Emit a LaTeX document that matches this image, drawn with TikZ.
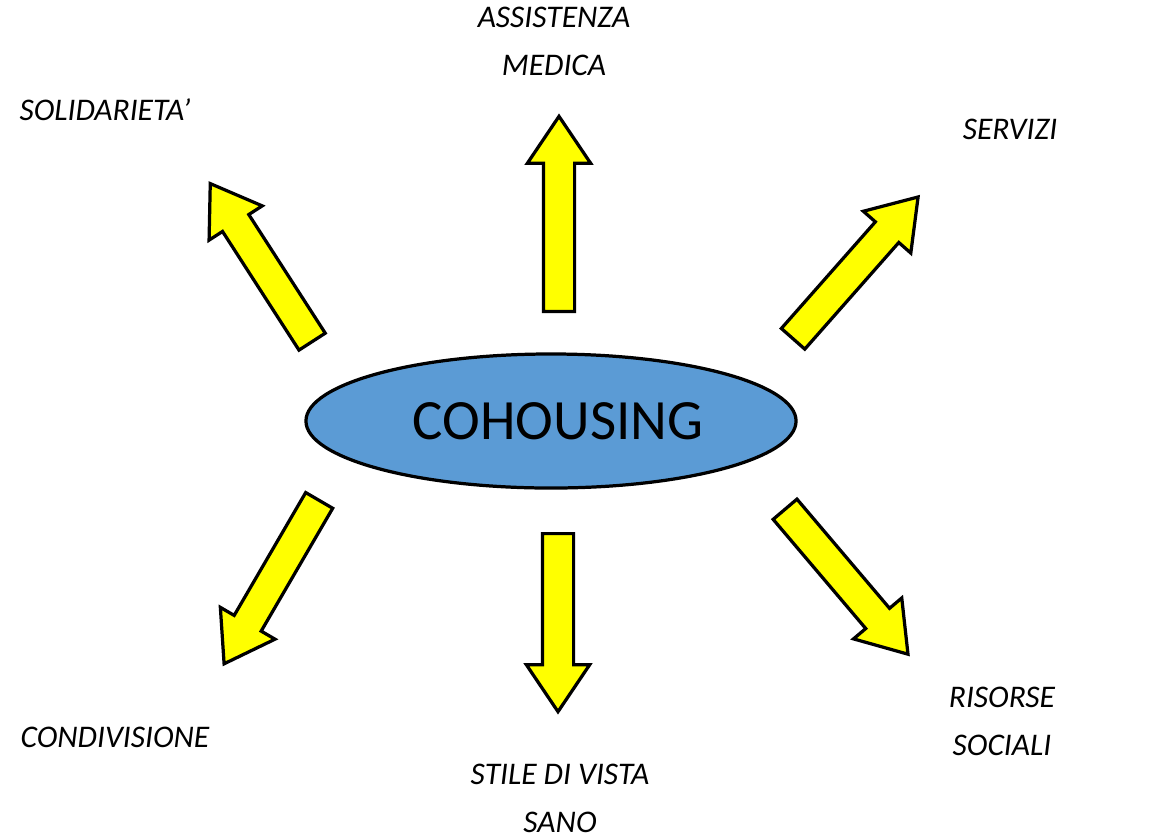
\documentclass[tikz,border=0pt]{standalone}
\usepackage{fontspec}
\setmainfont{Carlito}
\usetikzlibrary{shapes.geometric,shapes.arrows}
\definecolor{hubblue}{RGB}{91,155,213}
\definecolor{arryellow}{RGB}{255,255,0}

\begin{document}
\begin{tikzpicture}[line cap=round,line join=round,x=0.025cm,y=-0.025cm,
  freccia/.style={single arrow,draw=black,fill=arryellow,line width=2.3pt,line join=miter,
    inner xsep=0pt,inner ysep=0.35cm,single arrow head extend=0.4cm,
    single arrow tip angle=68,anchor=tail},
  voce/.style={font=\fontsize{22.4}{34.1}\selectfont\itshape,align=center,anchor=base,inner sep=0.5pt}]
\useasboundingbox (0,0) rectangle (1161,837);

\node[ellipse,draw=black,fill=hubblue,line width=2.3pt,minimum width=12.25cm,minimum height=3.35cm,
  font=\fontsize{40.5}{48}\selectfont] (hub) at (551,421) {\kern0.35cm COHOUSING};

% frecce
\node[freccia,rotate=90,minimum height=4.875cm] (fsu) at (559,313) {};
\node[freccia,rotate=270,minimum height=4.45cm] (fgiu) at (558,532) {};
\node[freccia,rotate=122.8,minimum height=4.7cm] (fsx) at (313,343) {};
\node[freccia,rotate=48.6,minimum height=4.725cm] (fdx) at (792,340) {};
\node[freccia,rotate=-49.7,minimum height=4.75cm] (fdxb) at (784,508) {};
\node[freccia,rotate=239.8,minimum height=4.725cm] (fsxb) at (320,499) {};

% voci (base = ultima riga)
\node[voce] (assist) at (554,75) {ASSISTENZA\\MEDICA};
\node[voce] (solid) at (105,120) {SOLIDARIETA’};
\node[voce] (serv) at (1010,139) {SERVIZI};
\node[voce] (risorse) at (1002,755) {RISORSE\\SOCIALI};
\node[voce] (stile) at (560,832) {STILE DI VISTA\\SANO};
\node[voce] (condiv) at (115,747) {CONDIVISIONE};

\end{tikzpicture}
\end{document}
